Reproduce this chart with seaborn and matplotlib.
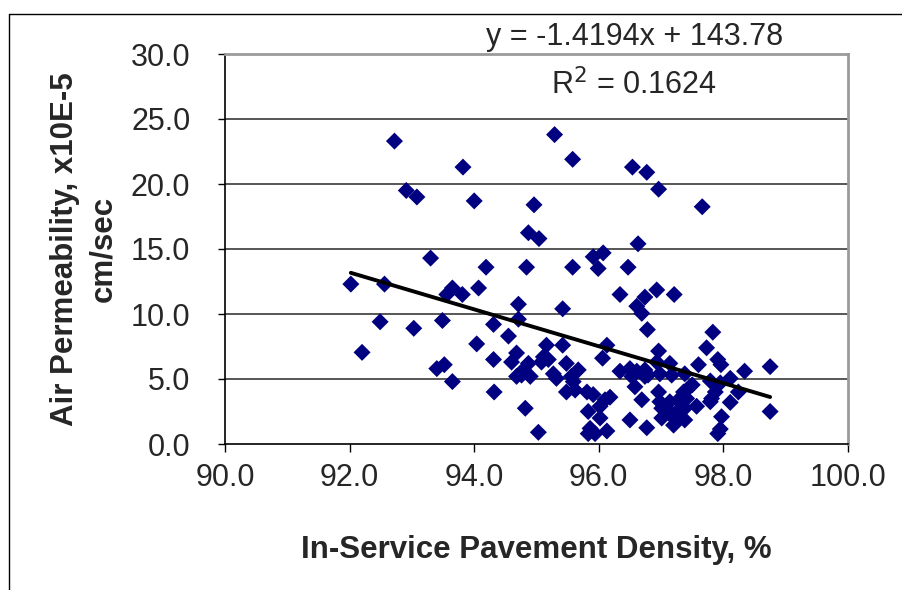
import matplotlib
matplotlib.use("Agg")
import matplotlib.pyplot as plt
from matplotlib.lines import Line2D
import numpy as np
import pandas as pd
import seaborn as sns

# In-service pavement density (%) and measured air permeability (x10E-5 cm/sec)
density = [
    92.02, 92.56, 92.20, 92.49, 92.72, 92.91, 93.08, 93.03, 93.30, 93.40,
    93.52, 93.49, 93.56, 93.65, 93.65, 93.81, 93.82, 94.00, 94.04, 94.07,
    94.19, 94.31, 94.31, 94.32, 94.55, 94.60, 94.68, 94.71, 94.71, 94.68,
    94.76, 94.79, 94.82, 94.84, 94.87, 94.87, 94.90, 94.96, 95.03, 95.04,
    95.08, 95.11, 95.16, 95.19, 95.27, 95.29, 95.32, 95.42, 95.42, 95.48,
    95.48, 95.56, 95.58, 95.58, 95.59, 95.62, 95.67, 95.81, 95.83, 95.83,
    95.86, 95.91, 95.91, 95.94, 95.99, 96.02, 96.02, 96.06, 96.07, 96.10,
    96.13, 96.13, 96.18, 96.34, 96.34, 96.47, 96.50, 96.50, 96.53, 96.54,
    96.58, 96.61, 96.61, 96.63, 96.69, 96.69, 96.74, 96.74, 96.74, 96.77,
    96.77, 96.78, 96.79, 96.93, 96.93, 96.96, 96.96, 96.96, 96.98, 96.98,
    97.01, 97.01, 97.12, 97.14, 97.14, 97.17, 97.20, 97.20, 97.21, 97.28,
    97.28, 97.36, 97.38, 97.38, 97.38, 97.41, 97.44, 97.50, 97.57, 97.60,
    97.66, 97.73, 97.79, 97.79, 97.81, 97.83, 97.87, 97.91, 97.91, 97.95,
    97.95, 97.96, 97.97, 98.11, 98.11, 98.24, 98.34, 98.75, 98.75,
]
permeability = [
    12.3, 12.3, 7.05, 9.4, 23.3, 19.5, 19.0, 8.9, 14.3, 5.8,
    6.1, 9.5, 11.5, 12.0, 4.8, 11.5, 21.3, 18.7, 7.7, 12.0,
    13.6, 9.2, 6.5, 4.0, 8.3, 6.3, 7.0, 10.75, 9.6, 5.2,
    5.3, 5.7, 2.75, 13.6, 6.2, 16.25, 5.2, 18.4, 0.9, 15.8,
    6.3, 6.7, 7.6, 6.5, 5.4, 23.8, 5.05, 10.4, 7.6, 6.2,
    4.0, 5.2, 13.6, 21.9, 4.8, 4.15, 5.7, 4.0, 2.5, 0.8,
    1.2, 3.8, 14.4, 0.8, 13.5, 2.9, 2.0, 6.6, 14.7, 3.4,
    7.6, 1.0, 3.6, 11.5, 5.6, 13.6, 5.8, 1.85, 5.2, 21.3,
    4.4, 10.6, 5.6, 15.4, 10.05, 3.4, 11.3, 5.2, 5.7, 20.9,
    1.25, 8.8, 5.3, 11.85, 6.3, 19.6, 7.15, 4.0, 5.4, 3.25,
    2.75, 2.0, 2.5, 6.2, 3.25, 5.3, 2.0, 1.45, 11.5, 3.4,
    2.6, 4.0, 5.4, 2.75, 1.85, 3.5, 4.3, 4.55, 2.9, 6.1,
    18.25, 7.4, 4.85, 3.25, 3.5, 8.6, 4.0, 6.5, 0.8, 4.7,
    1.15, 6.1, 2.1, 5.05, 3.2, 4.0, 5.6, 5.95, 2.5,
]

# Linear trendline coefficients and fit statistic
slope = -1.4194
intercept = 143.78
r_squared = 0.1624

x_ticks = [90.0, 92.0, 94.0, 96.0, 98.0, 100.0]
y_ticks = [0.0, 5.0, 10.0, 15.0, 20.0, 25.0, 30.0]

x_title = "In-Service Pavement Density, %"
y_title = "Air Permeability, x10E-5\ncm/sec"

sns.set_style("white")
plt.rcParams["font.family"] = ["Liberation Sans", "DejaVu Sans"]

df = pd.DataFrame({"density": density, "permeability": permeability})

fig = plt.figure(figsize=(9.02, 5.90), dpi=100)
ax = fig.add_axes([225 / 902, 1 - 444 / 590, 623 / 902, 390 / 590])

# horizontal gridlines
for yv in y_ticks[1:-1]:
    ax.axhline(yv, color="#3a3a3a", lw=1.2, zorder=1)

sns.scatterplot(data=df, x="density", y="permeability", marker="D",
                color="#000080", edgecolor="none", s=75, ax=ax, zorder=3)

# trendline over the measured density range
line_x = np.array([min(density), max(density)])
trend = pd.DataFrame({"x": line_x, "y": slope * line_x + intercept})
sns.lineplot(data=trend, x="x", y="y", color="black", lw=2.8, ax=ax, zorder=4)

ax.set_xlim(90, 100)
ax.set_ylim(0, 30)
ax.set_xticks(x_ticks)
ax.set_yticks(y_ticks)
ax.set_xticklabels([f"{v:.1f}" for v in x_ticks])
ax.set_yticklabels([f"{v:.1f}" for v in y_ticks])
ax.tick_params(axis="x", direction="out", length=6, width=1, color="black",
               labelsize=22, pad=8, bottom=True)
ax.tick_params(axis="y", direction="out", length=5, width=1, color="black",
               labelsize=22, pad=20, left=True)

ax.set_xlabel(x_title, fontsize=22.5, fontweight="bold", labelpad=30)
ax.set_ylabel(y_title, fontsize=22.5, fontweight="bold", labelpad=9,
              linespacing=1.35)

for side in ("left", "bottom"):
    ax.spines[side].set_color("black")
    ax.spines[side].set_linewidth(1.2)
for side in ("top", "right"):
    ax.spines[side].set_color("#9a9a9a")
    ax.spines[side].set_linewidth(2)

sign = "-" if slope < 0 else "+"
fig.text(635 / 902, 1 - 37 / 590,
         f"y = {sign}{abs(slope):.4f}x + {intercept:.2f}",
         fontsize=22, ha="center", va="center")
fig.text(634 / 902, 1 - 85 / 590, f"R$^2$ = {r_squared:.4f}",
         fontsize=22, ha="center", va="center")

# chart area outline
fig.add_artist(Line2D([9 / 902, 9 / 902], [0, 1 - 14 / 590],
                      transform=fig.transFigure, color="black", lw=1))
fig.add_artist(Line2D([9 / 902, 1], [1 - 14 / 590, 1 - 14 / 590],
                      transform=fig.transFigure, color="black", lw=1))

fig.savefig("out.png", dpi=100)
